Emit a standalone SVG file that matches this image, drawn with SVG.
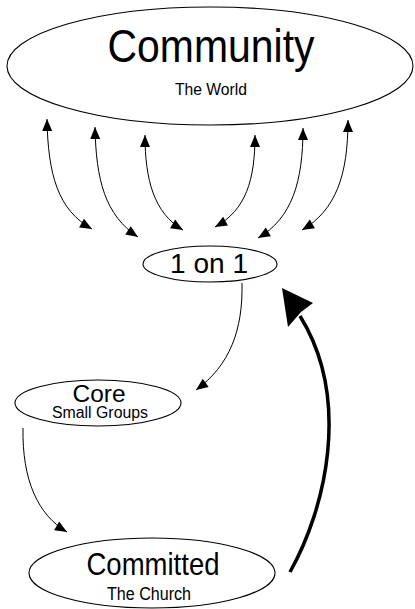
<svg xmlns="http://www.w3.org/2000/svg" width="415" height="609" viewBox="0 0 415 609">
<style>
.shape{fill:none;stroke:#000;stroke-width:1.1}
.t{font-family:"Liberation Sans",Arial,sans-serif;fill:#000;text-anchor:middle}
.c{fill:none;stroke:#000;stroke-width:1}
.both{marker-start:url(#ah);marker-end:url(#ah)}
.one{marker-end:url(#ah)}
</style>
<defs>
<marker id="ah" markerUnits="userSpaceOnUse" markerWidth="15" markerHeight="12" refX="13" refY="5.5" orient="auto-start-reverse" viewBox="0 0 15 11">
<path d="M1,0.5 L13,5.5 L1,10.5 z" fill="#000"/>
</marker>
</defs>
<rect width="415" height="609" fill="#fff"/>
<g id="connectors">
<path class="c both" d="M47,119 C48,175 58,210 92,229"/>
<path class="c both" d="M95,127 C96,180 105,215 138,237"/>
<path class="c both" d="M145,135 C145,180 154,213 183,230"/>
<path class="c both" d="M255,135 C255,180 246,210 215,227"/>
<path class="c both" d="M303,128 C303,182 292,218 258,238"/>
<path class="c both" d="M348,120 C348,175 336,210 302,230"/>
<path class="c one" d="M242,283 C243,330 230,365 196,390"/>
<path class="c one" d="M23,428 C22,480 38,515 67,532"/>
<path d="M290,572 C325,510 352,400 300,316" fill="none" stroke="#000" stroke-width="3.5"/>
<path d="M282,288 L313,303 L301,312 L288,327 z" fill="#000"/>
</g>
<g id="community">
<ellipse class="shape" cx="210" cy="66" rx="203" ry="59"/>
<text class="t" x="211" y="62" font-size="46" textLength="207" lengthAdjust="spacingAndGlyphs">Community</text>
<text class="t" x="211" y="95" font-size="17" textLength="72" lengthAdjust="spacingAndGlyphs">The World</text>
</g>
<g id="one-on-one">
<ellipse class="shape" cx="210" cy="264" rx="67" ry="18"/>
<text class="t" x="209" y="273" font-size="27" textLength="78" lengthAdjust="spacingAndGlyphs">1 on 1</text>
</g>
<g id="core">
<ellipse class="shape" cx="98" cy="403" rx="83" ry="23"/>
<text class="t" x="99" y="402" font-size="24" textLength="53" lengthAdjust="spacingAndGlyphs">Core</text>
<text class="t" x="100" y="418" font-size="16" textLength="96" lengthAdjust="spacingAndGlyphs">Small Groups</text>
</g>
<g id="committed">
<ellipse class="shape" cx="152" cy="573" rx="123" ry="35"/>
<text class="t" x="153" y="575" font-size="32" textLength="133" lengthAdjust="spacingAndGlyphs">Committed</text>
<text class="t" x="149" y="600" font-size="18" textLength="84" lengthAdjust="spacingAndGlyphs">The Church</text>
</g>
</svg>
